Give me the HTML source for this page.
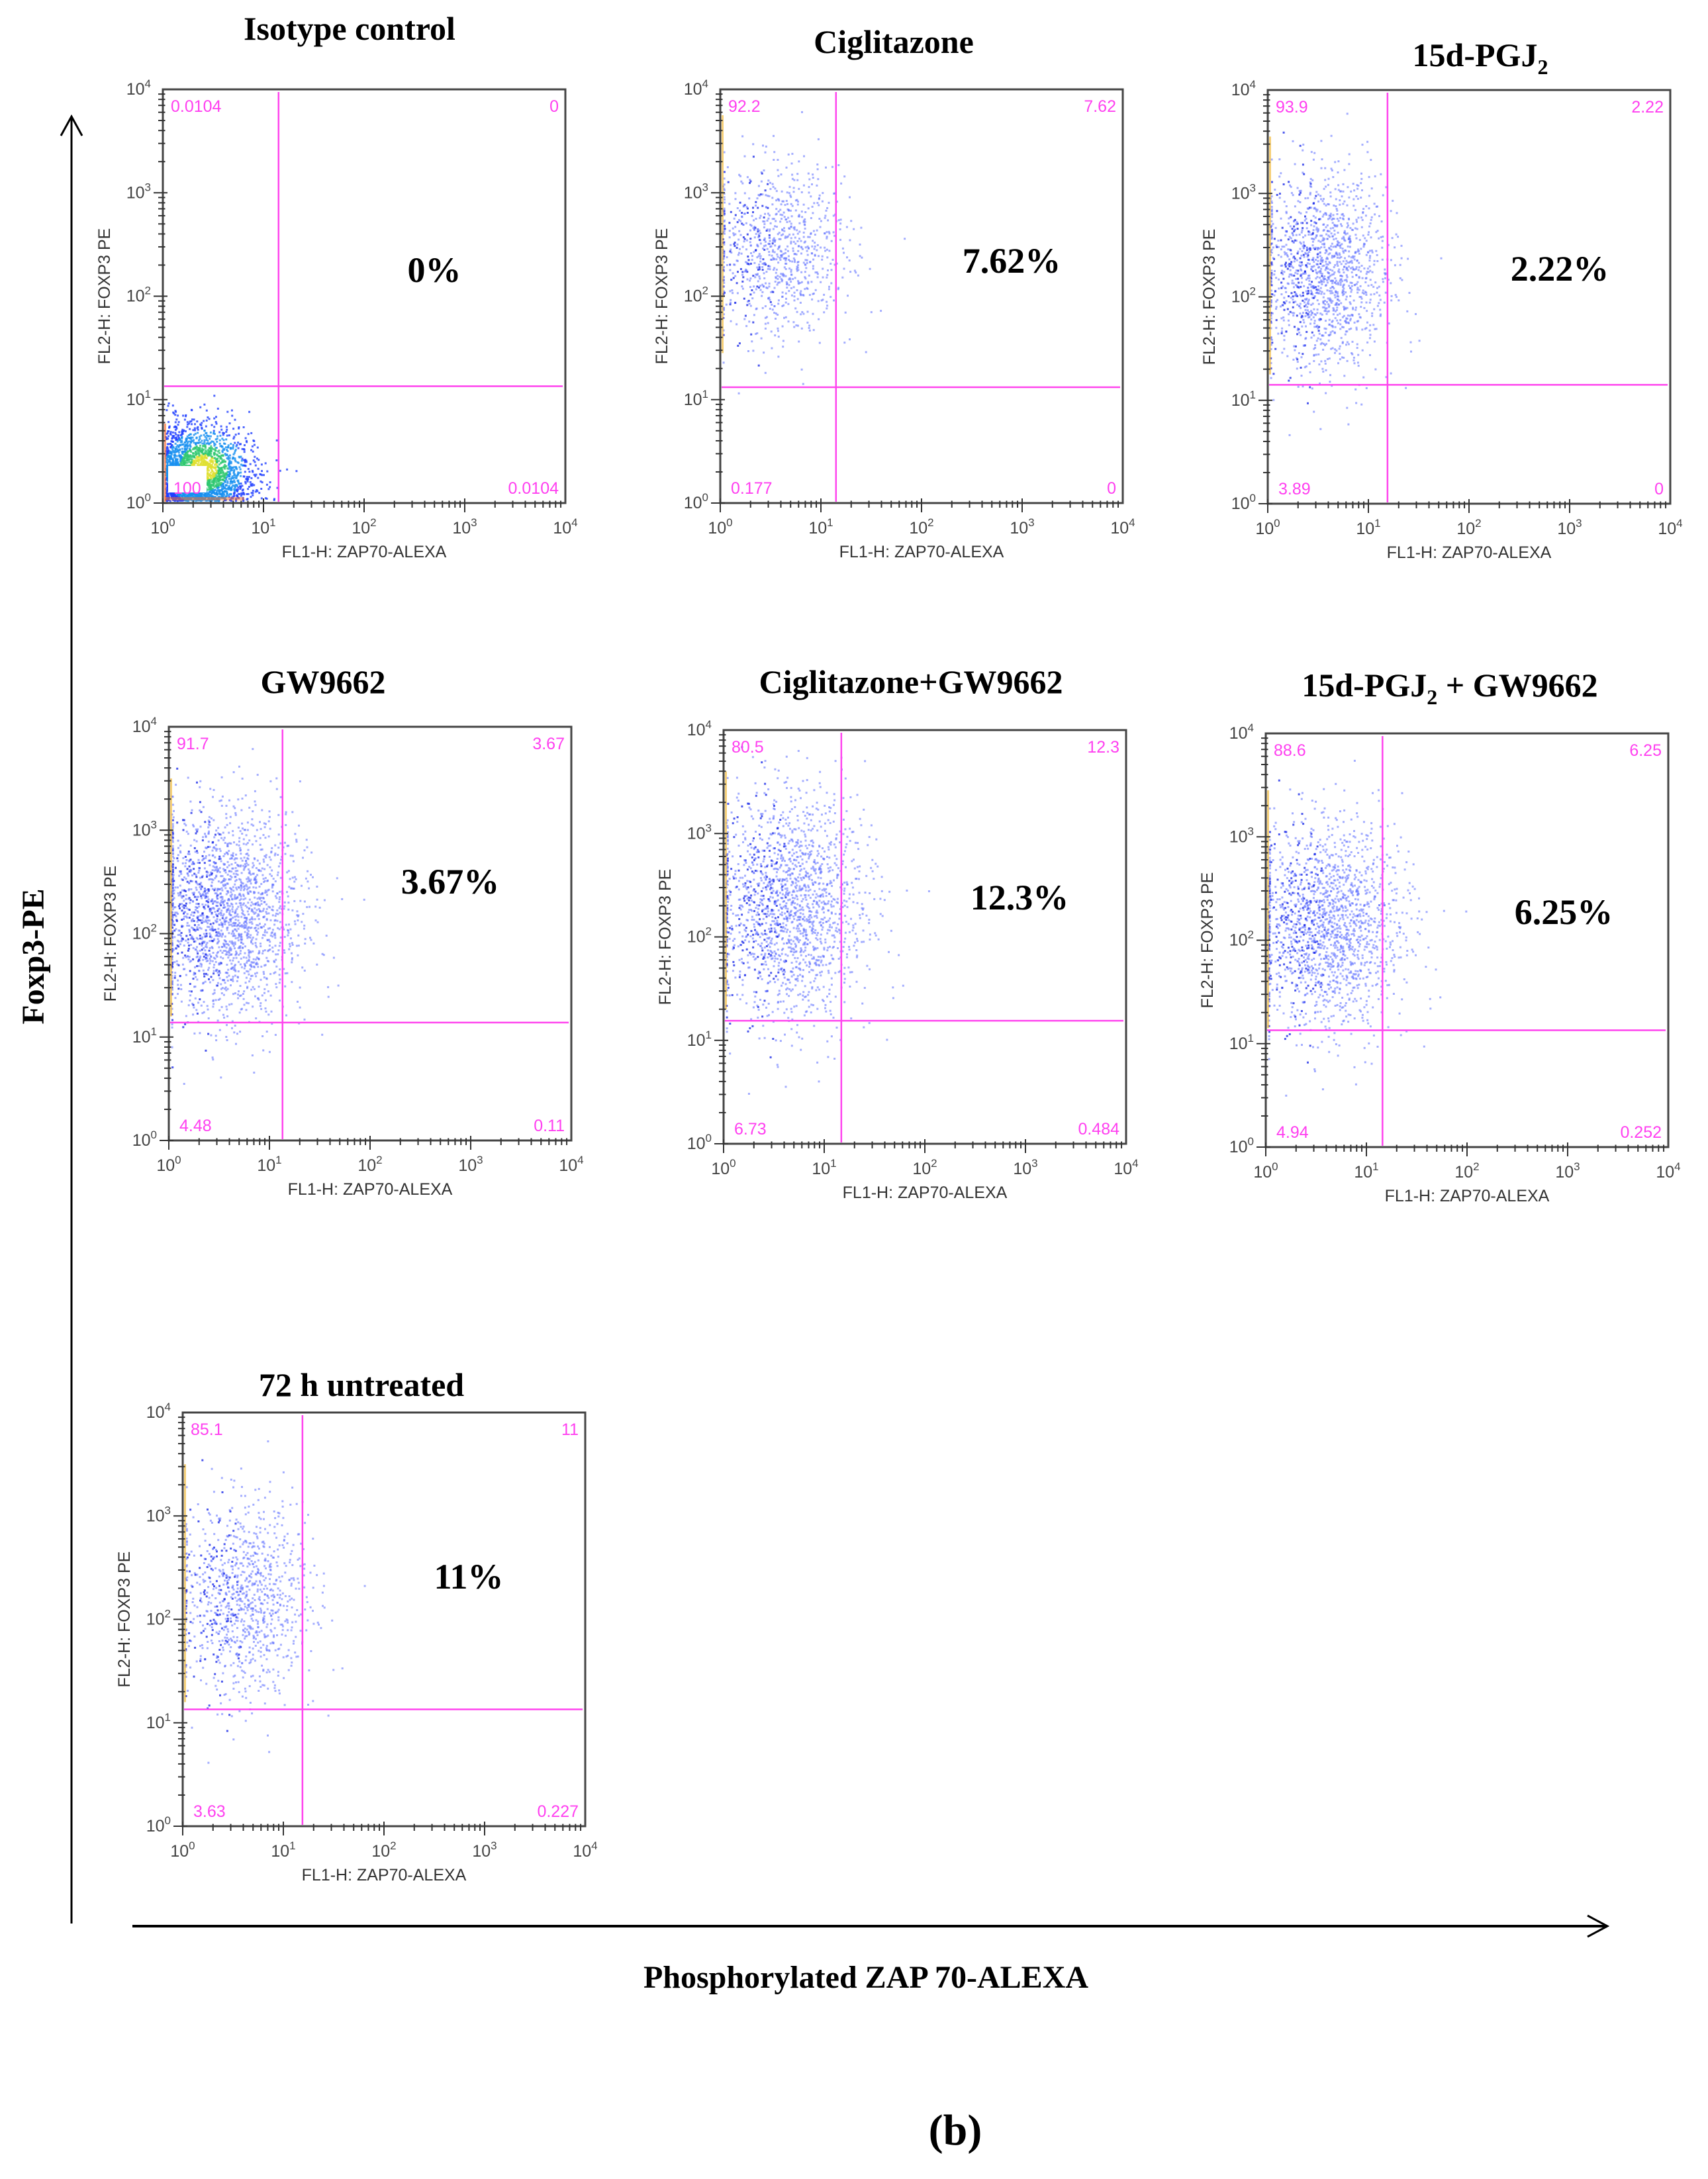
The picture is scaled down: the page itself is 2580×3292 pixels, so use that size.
<!DOCTYPE html>
<html><head><meta charset="utf-8"><style>
html,body{margin:0;padding:0;background:#fff;}
svg{display:block;}
</style></head><body>
<svg id="fig" xmlns="http://www.w3.org/2000/svg" width="2580" height="3292" viewBox="0 0 2580 3292">
<rect width="2580" height="3292" fill="#fff"/>
<g id="panels"></g>
<g>
<line x1="108" y1="2906" x2="108" y2="176" stroke="#000" stroke-width="3"/>
<polyline points="92,205 108,176 124,205" fill="none" stroke="#000" stroke-width="3"/>
</g>
<text x="0" y="0" transform="translate(66,1445) rotate(-90)" text-anchor="middle" font-family="Liberation Serif, serif" font-weight="bold" font-size="48">Foxp3-PE</text>
<g>
<line x1="200" y1="2910" x2="2428" y2="2910" stroke="#000" stroke-width="4"/>
<polyline points="2398,2894 2428,2910 2398,2926" fill="none" stroke="#000" stroke-width="3"/>
</g>
<text x="1308" y="3003" text-anchor="middle" font-family="Liberation Serif, serif" font-weight="bold" font-size="48">Phosphorylated  ZAP 70-ALEXA</text>
<text x="1443" y="3240" text-anchor="middle" font-family="Liberation Serif, serif" font-weight="bold" font-size="66">(b)</text>
</svg>
<script>
// ---- data ----
const panelTitles = ["Isotype control","Ciglitazone","15d-PGJ|","GW9662","Ciglitazone+GW9662","15d-PGJ| + GW9662","72 h untreated"];
const quadUL = ["0.0104","92.2","93.9","91.7","80.5","88.6","85.1"];
const quadUR = ["0","7.62","2.22","3.67","12.3","6.25","11"];
const quadLL = ["100","0.177","3.89","4.48","6.73","4.94","3.63"];
const quadLR = ["0.0104","0","0","0.11","0.484","0.252","0.227"];
const bigPercent = ["0%","7.62%","2.22%","3.67%","12.3%","6.25%","11%"];
const gateX = [1.15,1.15,1.19,1.13,1.17,1.16,1.19];
const gateY = [1.13,1.12,1.15,1.14,1.19,1.13,1.13];
const clusterCX = [0.3,0.55,0.55,0.55,0.65,0.6,0.6];
const clusterCY = [0.25,2.45,2.25,2.2,2.3,2.15,2.2];
const clusterSX = [0.28,0.35,0.32,0.38,0.38,0.38,0.33];
const clusterSY = [0.25,0.42,0.48,0.5,0.55,0.5,0.48];
const clusterN = [2600,900,1400,2000,1700,1700,1000];
const tickDecades = [0,1,2,3,4];
// layout
const boxLeft = [246,1088,1915,255,1093,1912,276];
const boxTop = [135,135,136,1098,1103,1108,2134];
const BW = 608, BH = 625;
const titleX = [528,1350,2236,488,1376,2190,546];
const titleY = [60,80,100,1047,1047,1052,2109];
const pctX = [656,1528,2356,680,1540,2362,708];
const pctY = [426,412,424,1350,1374,1396,2400];

const NS="http://www.w3.org/2000/svg";
const root=document.getElementById('panels');
function mk(tag,attrs,parent){const e=document.createElementNS(NS,tag);for(const k in attrs)e.setAttribute(k,attrs[k]);(parent||root).appendChild(e);return e;}
function vdc(n,b){let v=0,d=1;while(n>0){d*=b;v+=(n%b)/d;n=Math.floor(n/b);}return v;}
function gauss(i,b1,b2){const u=Math.max(1e-4,vdc(i+1,b1)),v=vdc(i+1,b2);return Math.sqrt(-2*Math.log(u))*Math.cos(2*Math.PI*v);}

for(let p=0;p<7;p++){
  const L=boxLeft[p],T=boxTop[p],R=L+BW,B=T+BH;
  const sx=v=>L+v/4*BW, sy=v=>B-v/4*BH;
  const g=mk('g',{});
  
  
  const parts=panelTitles[p].split('|');
  const t=mk('text',{x:titleX[p],y:titleY[p],'text-anchor':'middle','font-family':'Liberation Serif, serif','font-weight':'bold','font-size':50},g);
  
  
  if(parts.length>1){
    t.appendChild(document.createTextNode(parts[0]));
    const s=mk('tspan',{'font-size':32,dy:12},t);s.textContent='2';
    if(parts[1]){const s2=mk('tspan',{dy:-12},t);s2.textContent=parts[1];}
  } else t.textContent=parts[0];
  const dg=mk('g',{},g);
  
  
  const n=clusterN[p];
  for(let i=0;i<n;i++){
    let x=clusterCX[p]+clusterSX[p]*gauss(i,2,3);
    let y=clusterCY[p]+clusterSY[p]*gauss(i,5,7);
    if(p===0){x=Math.abs(x-0.02)+0.02;y=Math.abs(y-0.03)+0.03;}
    if(x<0.02)x=0.02+(i%7)*0.002; if(y<0.03)y=0.03+(i%5)*0.01;
    if(x>3.98||y>3.98)continue;
    let col='#5a6cff',op=0.55;
    if(p===0){const d=Math.hypot((x-0.4)/0.3,(y-0.35)/0.28); col=d<0.45?'#e0e030':d<0.8?'#30c870':d<1.3?'#1890f0':'#2040ff';op=0.8;}
    else if(i%9===0){col='#2030e8';op=0.8;}
    mk('rect',{x:sx(x).toFixed(1),y:sy(y).toFixed(1),width:3,height:3,fill:col,'fill-opacity':op},dg);
  }
  mk('rect',{x:L+2,y:p===0?B-120:sy(clusterCY[p]+1.3),width:3,height:p===0?118:(sy(clusterCY[p]-1.0)-sy(clusterCY[p]+1.3)),fill:p===0?'#ff6020':'#f0b020','fill-opacity':0.6},g);
  if(p===0){
    mk('rect',{x:L+3,y:B-9,width:120,height:5,fill:'#ff7020','fill-opacity':0.5},g);
    mk('rect',{x:L+8,y:B-56,width:58,height:40,fill:'#fff'},g);
  }
  const gv=mk('line',{x1:sx(gateX[p]),y1:T+4,x2:sx(gateX[p]),y2:B-2,stroke:'#ff44ee','stroke-width':2.5},g);
  
  
  const gh=mk('line',{x1:L+2,y1:sy(gateY[p]),x2:R-4,y2:sy(gateY[p]),stroke:'#ff44ee','stroke-width':2.5},g);
  
  
  mk('rect',{x:L,y:T,width:BW,height:BH,fill:'none',stroke:'#444','stroke-width':3},g);
  for(let d=0;d<4;d++){for(let m=1;m<10;m++){
    const v=d+Math.log10(m), len=m===1?14:7;
    mk('line',{x1:sx(v),y1:B-len/2,x2:sx(v),y2:B+len,stroke:'#333','stroke-width':2},g);
    mk('line',{x1:L-len,y1:sy(v),x2:L+len/2,y2:sy(v),stroke:'#333','stroke-width':2},g);
  }}
  tickDecades.forEach(d=>{
    const xt=mk('text',{x:sx(d),y:B+46,'text-anchor':'middle','font-family':'Liberation Sans, sans-serif','font-size':25,fill:'#444'},g);
    
    
    xt.appendChild(document.createTextNode('10'));
    const s=mk('tspan',{'font-size':17,dy:-11},xt);s.textContent=d;
    const yt=mk('text',{x:L-18,y:sy(d)+8,'text-anchor':'end','font-family':'Liberation Sans, sans-serif','font-size':25,fill:'#444'},g);
    
    
    yt.appendChild(document.createTextNode('10'));
    const s2=mk('tspan',{'font-size':17,dy:-11},yt);s2.textContent=d;
  });
  const xl=mk('text',{x:L+BW/2,y:B+82,'text-anchor':'middle','font-family':'Liberation Sans, sans-serif','font-size':25,fill:'#333'},g);
  
  
  xl.textContent='FL1-H: ZAP70-ALEXA';
  const yl=mk('text',{x:0,y:0,transform:`translate(${L-80},${T+BH/2}) rotate(-90)`,'text-anchor':'middle','font-family':'Liberation Sans, sans-serif','font-size':25,fill:'#333'},g);
  
  
  yl.textContent='FL2-H: FOXP3 PE';
  const qs=[[quadUL[p],L+12,T+34,'start','ul'],[quadUR[p],R-10,T+34,'end','ur'],[quadLL[p],L+16,B-14,'start','ll'],[quadLR[p],R-10,B-14,'end','lr']];
  qs.forEach(q=>{const e=mk('text',{x:q[1],y:q[2],'text-anchor':q[3],'font-family':'Liberation Sans, sans-serif','font-size':25,fill:'#ff40f0'},g);
    
    
    e.textContent=q[0];});
  const pe=mk('text',{x:pctX[p],y:pctY[p],'text-anchor':'middle','font-family':'Liberation Serif, serif','font-weight':'bold','font-size':54},g);
  
  
  pe.textContent=bigPercent[p];
}
</script>
</body></html>
